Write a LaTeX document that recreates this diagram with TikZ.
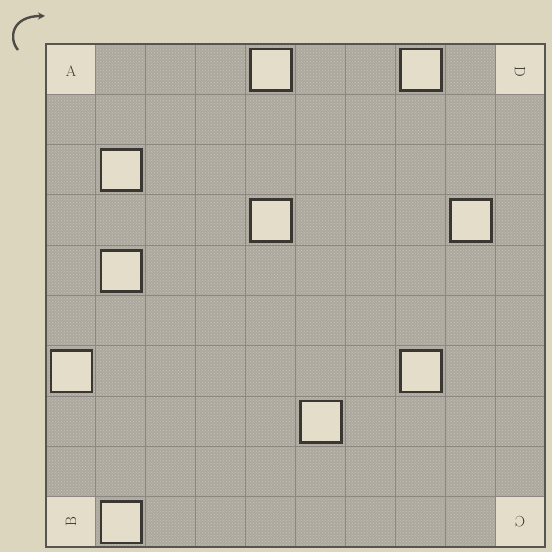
\documentclass[tikz,border=0pt]{standalone}
\usetikzlibrary{patterns,arrows.meta}
\definecolor{paper}{HTML}{DCD6BE}
\definecolor{cellgray}{HTML}{ACA89E}
\definecolor{dotgray}{HTML}{C6C2B8}
\definecolor{gridline}{HTML}{8C8881}
\definecolor{lightcell}{HTML}{E3DDC9}
\definecolor{ink}{HTML}{3A3631}
\begin{document}
\begin{tikzpicture}[x=1pt,y=1pt,
  gridcell/.style={fill=cellgray},
  texture/.style={pattern=crosshatch dots, pattern color=dotgray},
  gridrule/.style={draw=gridline, line width=0.9pt},
  frame/.style={draw=ink!85, line width=1.6pt},
  labelcell/.style={fill=lightcell},
  hole/.style={fill=lightcell, draw=ink, line width=2.8pt},
  cornerlabel/.style={font=\fontsize{15}{15}\selectfont, text=ink, inner sep=0pt},
  turnarrow/.style={draw=ink!90, line width=2.4pt, -{Stealth[length=7pt,width=7pt]}}
]
\fill[paper] (0,0) rectangle (552,552);
\useasboundingbox (0,0) rectangle (552,552);
% top-left corner of board at (46, 552-44)
\def\xo{46}\def\yo{508}\def\cw{49.9}\def\ch{50.3}
% cells
\fill[gridcell] (\xo,\yo) rectangle ({\xo+10*\cw},{\yo-10*\ch});
\fill[texture] (\xo,\yo) rectangle ({\xo+10*\cw},{\yo-10*\ch});
% corner label cells
\foreach \c/\r in {0/0,9/0,0/9,9/9}
  \fill[labelcell] ({\xo+\c*\cw},{\yo-\r*\ch}) rectangle ({\xo+(\c+1)*\cw},{\yo-(\r+1)*\ch});
% grid lines
\foreach \i in {1,...,9} {
  \draw[gridrule] ({\xo+\i*\cw},\yo) -- ({\xo+\i*\cw},{\yo-10*\ch});
  \draw[gridrule] (\xo,{\yo-\i*\ch}) -- ({\xo+10*\cw},{\yo-\i*\ch});
}
\draw[frame] (\xo,\yo) rectangle ({\xo+10*\cw},{\yo-10*\ch});
% open squares
\foreach \c/\r in {4/0,7/0,1/2,4/3,8/3,1/4,0/6,7/6,5/7,1/9}
  \draw[hole] ({\xo+\c*\cw+5},{\yo-\r*\ch-5}) rectangle ({\xo+(\c+1)*\cw-4},{\yo-(\r+1)*\ch+4});
% labels
\node[cornerlabel] (A) at ({\xo+0.5*\cw},{\yo-0.55*\ch}) {A};
\node[cornerlabel, rotate=-90] (D) at ({\xo+9.5*\cw},{\yo-0.55*\ch}) {D};
\node[cornerlabel, rotate=180] (C) at ({\xo+9.5*\cw},{\yo-9.5*\ch}) {C};
\node[cornerlabel, rotate=90] (B) at ({\xo+0.5*\cw},{\yo-9.5*\ch}) {B};
% turning arrow
\coordinate (arrowstart) at (18,502);
\coordinate (arrowend) at (45,536);
\draw[turnarrow] (arrowstart) .. controls (8,514) and (12,536) .. (arrowend);
\end{tikzpicture}
\end{document}
